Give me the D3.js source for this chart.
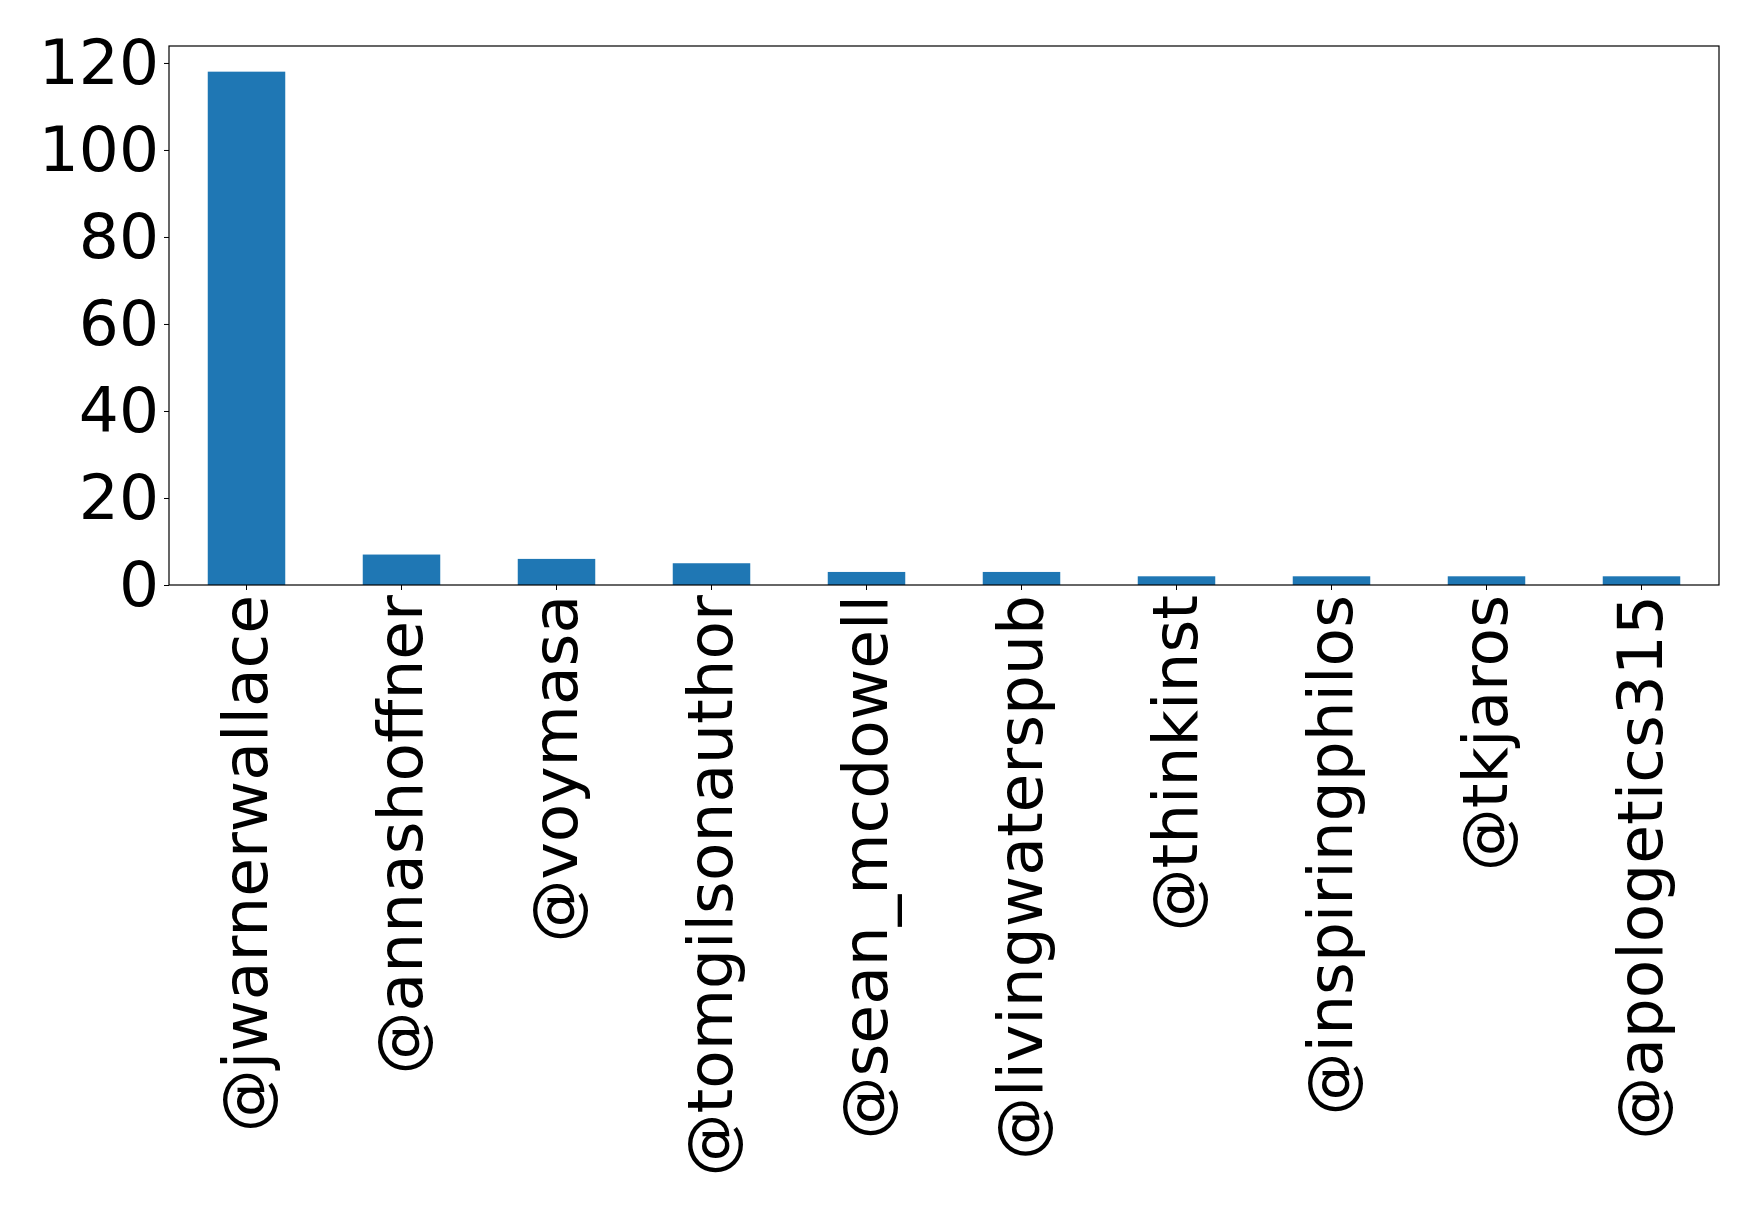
<!DOCTYPE html>
<html>
<head>
<meta charset="utf-8">
<script src="https://cdn.jsdelivr.net/npm/d3@7"></script>
<style>
  body { margin: 0; background: #fff; }
</style>
</head>
<body>
<div id="chart"></div>
<script>
var users = ["@jwarnerwallace", "@annashoffner", "@voymasa", "@tomgilsonauthor", "@sean_mcdowell",
    "@livingwaterspub", "@thinkinst", "@inspiringphilos", "@tkjaros", "@apologetics315"];
var counts = [118, 7, 6, 5, 3, 3, 2, 2, 2, 2];
var yTicks = [0, 20, 40, 60, 80, 100, 120];

var width = 1758, height = 1211;
var margin = {left: 169, right: 39, top: 46, bottom: 626};
var fontSize = 63;

var svg = d3.select("#chart").append("svg")
    .attr("width", width)
    .attr("height", height);

var x = d3.scaleBand()
    .domain(users)
    .range([margin.left, width - margin.right])
    .paddingInner(0.5)
    .paddingOuter(0.25);

var y = d3.scaleLinear()
    .domain([0, 118 * 1.05])
    .range([height - margin.bottom, margin.top]);

// bars
svg.selectAll("rect.bar")
    .data(counts)
    .enter()
    .append("rect")
    .attr("class", "bar")
    .attr("x", function(d, i) { return x(users[i]); })
    .attr("y", function(d) { return y(d); })
    .attr("width", x.bandwidth())
    .attr("height", function(d) { return y(0) - y(d); })
    .attr("fill", "#1f77b4");

// y axis
var yAxis = svg.append("g")
    .attr("transform", "translate(" + margin.left + ",0)")
    .call(d3.axisLeft(y).tickValues(yTicks).tickSize(5).tickPadding(5));
yAxis.select(".domain").remove();
yAxis.selectAll("text")
    .attr("font-family", "DejaVu Sans")
    .attr("font-size", fontSize + "px")
    .attr("fill", "#000");

// x axis
var xAxis = svg.append("g")
    .attr("transform", "translate(0," + (height - margin.bottom) + ")")
    .call(d3.axisBottom(x).tickSize(5).tickPadding(0));
xAxis.select(".domain").remove();
xAxis.selectAll("text")
    .attr("font-family", "DejaVu Sans")
    .attr("font-size", fontSize + "px")
    .attr("fill", "#000")
    .attr("text-anchor", "end")
    .attr("dy", "0.32em")
    .attr("transform", "translate(0,10) rotate(-90)")
    .attr("x", 0)
    .attr("y", 0);

// frame
svg.append("rect")
    .attr("x", margin.left)
    .attr("y", margin.top)
    .attr("width", width - margin.left - margin.right)
    .attr("height", height - margin.top - margin.bottom)
    .attr("fill", "none")
    .attr("stroke", "#000")
    .attr("stroke-width", 1.2);
</script>
</body>
</html>
